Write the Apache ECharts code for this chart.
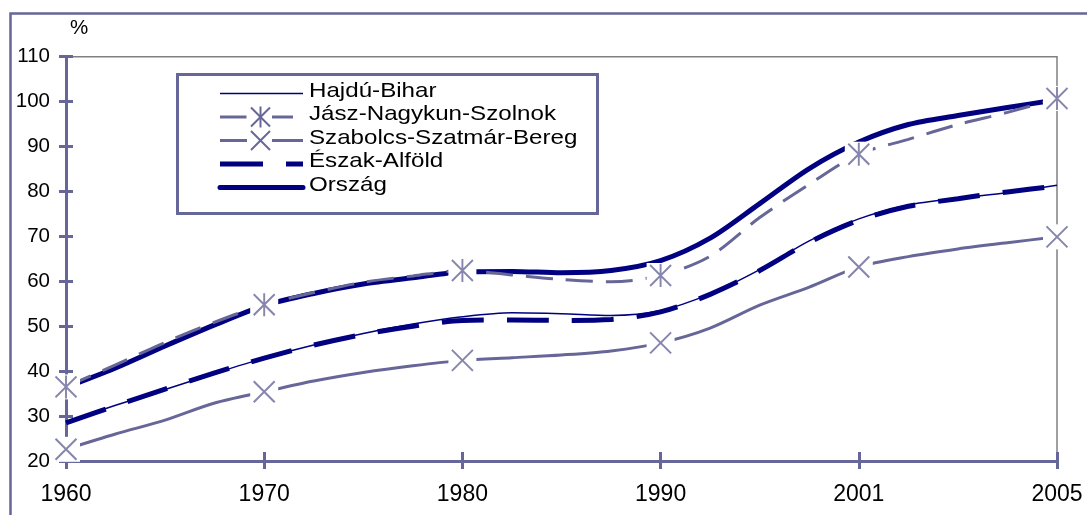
<!DOCTYPE html>
<html>
<head>
<meta charset="utf-8">
<script src="https://cdn.jsdelivr.net/npm/echarts@6/dist/echarts.min.js"></script>
<style>
  html, body { margin: 0; padding: 0; background: #fff; }
  #chart { width: 1087px; height: 515px; }
</style>
</head>
<body>
<div id="chart"></div>
<script>
// categories (only every 4th one is labelled)
const years = ['1960', '1962', '1965', '1967', '1970', '1972', '1975', '1977', '1980', '1982', '1985',
  '1987', '1990', '1993', '1995', '1998', '2001', '2002', '2003', '2004', '2005'];
const tickLabels = ['1960', '1970', '1980', '1990', '2001', '2005'];

// series values (%)
const hajduBihar = [28.7, 32.4, 35.9, 39.5, 42.9, 45.8, 48.4, 50.5, 52.1, 53.0, 52.8, 52.4, 53.5,
  57.2, 62.6, 69.0, 73.9, 77.0, 78.5, 79.7, 81.4];
const jaszNagykun = [36.5, 41.4, 46.4, 50.9, 54.8, 57.5, 59.8, 61.2, 62.4, 61.4, 60.4, 59.9, 61.3,
  65.6, 74.2, 81.6, 88.3, 91.6, 94.9, 97.6, 100.7];
const szabolcs = [22.6, 26.0, 29.1, 32.9, 35.4, 37.8, 39.7, 41.2, 42.4, 43.0, 43.6, 44.5, 46.3,
  49.6, 54.7, 58.7, 63.2, 65.5, 67.2, 68.6, 69.9];
const eszakAlfold = [28.5, 32.3, 36.0, 39.6, 42.9, 45.8, 48.2, 50.0, 51.3, 51.4, 51.3, 51.5, 53.2,
  57.1, 62.4, 68.7, 73.6, 76.7, 78.4, 79.9, 81.2];
const orszag = [36.4, 40.7, 45.6, 50.3, 54.6, 57.3, 59.4, 60.8, 62.1, 62.2, 61.9, 62.4, 64.6,
  69.6, 77.3, 85.1, 91.0, 94.9, 96.9, 98.7, 100.4];

const NAVY = '#000080';
const SLATE = '#666699';
const FONT = '"Liberation Sans", Arial, sans-serif';

const keyIdx = tickLabels.map(t => years.indexOf(t));
const keyPoints = arr => keyIdx.map(i => [i, arr[i]]);

const asterisk = 'path://M0,1L20,21M20,1L0,21M10,0L10,22';
const cross = 'path://M0,0L20,20M20,0L0,20';

let chart = echarts.init(document.getElementById('chart'), null, { renderer: 'canvas' });

function lineSeries(name, data, color, width, type) {
  return {
    name: name,
    type: 'line',
    data: data,
    smooth: 0.3,
    showSymbol: false,
    symbol: 'none',
    silent: true,
    z: 2,
    lineStyle: { color: color, width: width, type: type || 'solid' }
  };
}

function markSeries(data, symbol, size) {
  return {
    type: 'scatter',
    data: data,
    symbol: symbol,
    symbolSize: size,
    silent: true,
    clip: false,
    zlevel: 2,
    z: 6,
    itemStyle: { color: 'rgba(0,0,0,0)', borderColor: SLATE, borderWidth: 2 }
  };
}

// legend drawn by hand
const legendNames = ['Hajdú-Bihar', 'Jász-Nagykun-Szolnok', 'Szabolcs-Szatmár-Bereg', 'Észak-Alföld', 'Ország'];
const legendEls = [{
  type: 'rect', z: 100,
  shape: { x: 177.5, y: 74.5, width: 420, height: 139 },
  style: { fill: '#fff', stroke: SLATE, lineWidth: 3 }
}];
function lg(x1, x2, y, color, w) {
  legendEls.push({ type: 'line', z: 101, shape: { x1: x1, y1: y, x2: x2, y2: y }, style: { stroke: color, lineWidth: w } });
}
function lgMark(cx, cy, star) {
  const h = 9.5;
  legendEls.push({ type: 'line', z: 101, shape: { x1: cx - h, y1: cy - h, x2: cx + h, y2: cy + h }, style: { stroke: SLATE, lineWidth: 2 } });
  legendEls.push({ type: 'line', z: 101, shape: { x1: cx - h, y1: cy + h, x2: cx + h, y2: cy - h }, style: { stroke: SLATE, lineWidth: 2 } });
  if (star) {
    legendEls.push({ type: 'line', z: 101, shape: { x1: cx, y1: cy - h - 1, x2: cx, y2: cy + h + 1 }, style: { stroke: SLATE, lineWidth: 2 } });
  }
}
const rowY = [93.5, 117, 140.5, 164, 187.5];
lg(220, 303, rowY[0], NAVY, 1.5);
lg(220, 246.5, rowY[1], SLATE, 3); lg(272, 293, rowY[1], SLATE, 3); lgMark(260.5, rowY[1], true);
lg(220, 247, rowY[2], SLATE, 3); lg(272, 303, rowY[2], SLATE, 3); lgMark(260.5, rowY[2], false);
lg(220, 263, rowY[3], NAVY, 5); lg(286, 303, rowY[3], NAVY, 5);
legendEls.push({ type: 'line', z: 101, shape: { x1: 220, y1: rowY[4], x2: 303, y2: rowY[4] }, style: { stroke: NAVY, lineWidth: 5, lineCap: 'round' } });
legendNames.forEach((n, i) => {
  legendEls.push({
    type: 'text', z: 102, x: 309, y: rowY[i] - 2.5, scaleX: 1.15,
    style: { text: n, font: '21px ' + FONT, fill: '#000', verticalAlign: 'middle', align: 'left' }
  });
});

chart.setOption({
  animation: false,
  backgroundColor: '#fff',
  grid: {
    left: 66, right: 30, top: 56.7, bottom: 54,
    show: true, borderColor: '#808080', borderWidth: 1.5, backgroundColor: 'rgba(0,0,0,0)'
  },
  graphic: [
    {
      type: 'rect', z: 0, silent: true,
      shape: { x: 10.5, y: 13.5, width: 1200, height: 600 },
      style: { fill: 'none', stroke: SLATE, lineWidth: 2.5 }
    },
    {
      type: 'text', x: 70, y: 28,
      style: { text: '%', font: '20.5px ' + FONT, fill: '#000', verticalAlign: 'middle' }
    }
  ].concat(legendEls),
  xAxis: [
    {
      type: 'category',
      data: years,
      boundaryGap: false,
      axisLine: { show: true, lineStyle: { color: SLATE, width: 3 } },
      axisTick: { show: true, interval: 3, length: 8, lineStyle: { color: SLATE, width: 3 } },
      axisLabel: { interval: 3, margin: 22, color: '#000', fontSize: 23, fontFamily: FONT },
      splitLine: { show: false }
    },
    {
      type: 'category',
      data: years,
      position: 'bottom',
      boundaryGap: false,
      axisLine: { show: false },
      axisTick: { show: true, inside: true, interval: 3, length: 9, lineStyle: { color: SLATE, width: 3 } },
      axisLabel: { show: false },
      splitLine: { show: false }
    }
  ],
  yAxis: [
    {
      type: 'value',
      min: 20, max: 110, interval: 10,
      axisLine: { show: true, lineStyle: { color: SLATE, width: 3 } },
      axisTick: { show: true, length: 7, lineStyle: { color: SLATE, width: 3 } },
      axisLabel: { margin: 16, color: '#000', fontSize: 20.5, fontFamily: FONT },
      splitLine: { show: false }
    },
    {
      type: 'value',
      position: 'left',
      min: 20, max: 110, interval: 10,
      axisLine: { show: false },
      axisTick: { show: true, inside: true, length: 7, lineStyle: { color: SLATE, width: 3 } },
      axisLabel: { show: false },
      splitLine: { show: false }
    }
  ],
  series: [
    lineSeries('Ország', orszag, NAVY, 5),
    lineSeries('Észak-Alföld', eszakAlfold, NAVY, 5, [42, 23]),
    lineSeries('Hajdú-Bihar', hajduBihar, NAVY, 1.5),
    lineSeries('Jász-Nagykun-Szolnok', jaszNagykun, SLATE, 3, [27, 13]),
    lineSeries('Szabolcs-Szatmár-Bereg', szabolcs, SLATE, 3),
    {
      // white patches behind the markers
      type: 'scatter',
      data: keyPoints(jaszNagykun).concat(keyPoints(szabolcs)),
      symbol: 'rect',
      symbolSize: [28, 25],
      silent: true,
      clip: false,
      zlevel: 1,
      z: 5,
      itemStyle: { color: '#ffffff', opacity: 1 }
    },
    markSeries(keyPoints(jaszNagykun), asterisk, [21, 23]),
    markSeries(keyPoints(szabolcs), cross, [21, 21])
  ]
});
</script>
</body>
</html>
